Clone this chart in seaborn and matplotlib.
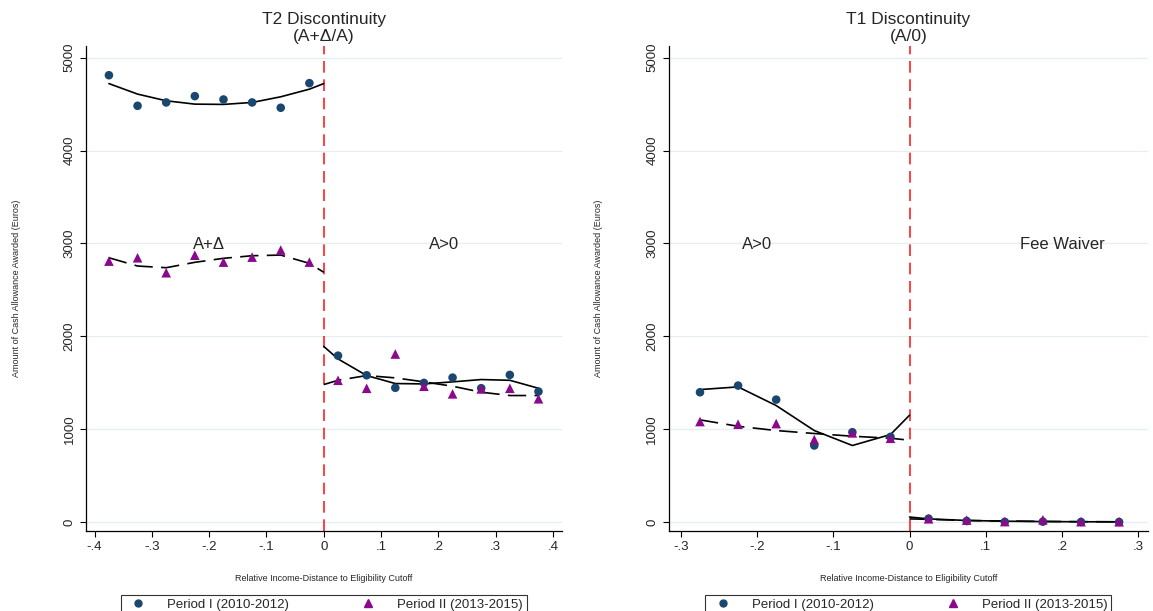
import numpy as np
import pandas as pd
import seaborn as sns
import matplotlib
matplotlib.use("Agg")
import matplotlib.pyplot as plt
from matplotlib.lines import Line2D

# bin midpoints
t2_x_below = [-.375, -.325, -.275, -.225, -.175, -.125, -.075, -.025]
t2_x_above = [.025, .075, .125, .175, .225, .275, .325, .375]
t1_x_below = [-.275, -.225, -.175, -.125, -.075, -.025]
t1_x_above = [.025, .075, .125, .175, .225, .275]

# T2 discontinuity (A+delta / A)
t2_p1_below = [4811, 4482, 4518, 4586, 4550, 4518, 4461, 4726]
t2_p1_above = [1792, 1581, 1446, 1499, 1556, 1442, 1585, 1406]
t2_p2_below = [2810, 2846, 2685, 2874, 2799, 2853, 2929, 2799]
t2_p2_above = [1527, 1441, 1810, 1463, 1381, 1434, 1441, 1328]
t2_fit1_below = [4721, 4608, 4536, 4500, 4497, 4518, 4579, 4661, 4721]
t2_fit1_above = [1892, 1757, 1578, 1492, 1488, 1510, 1535, 1527, 1441]
t2_fit2_below = [2846, 2757, 2739, 2797, 2840, 2868, 2875, 2786, 2690]
t2_fit2_above = [1481, 1527, 1578, 1553, 1510, 1463, 1399, 1363, 1363]

# T1 discontinuity (A / 0)
t1_p1_below = [1398, 1470, 1319, 825, 968, 918]
t1_p2_below = [1083, 1054, 1061, 889, 961, 903]
t1_p1_above = [38, 12, 3, 5, 2, 2]
t1_p2_above = [36, 22, 6, 25, 5, 4]
t1_fit1_below = [1427, 1456, 1255, 986, 825, 943, 1151]
t1_fit2_below = [1101, 1032, 986, 954, 925, 903, 882]
t1_fit1_above = [55, 35, 18, 10, 6, 4, 3]
t1_fit2_above = [35, 30, 18, 12, 8, 5, 4]

period_labels = ["Period I (2010-2012)", "Period II (2013-2015)"]
c_p1 = "#1a476f"
c_p2 = "#8b0a8b"

sns.set_style("white")
plt.rcParams["font.family"] = ["Liberation Sans", "DejaVu Sans"]

fig = plt.figure(figsize=(11.53, 6.11), dpi=100)
ax1 = fig.add_axes([0.0746, 0.131, 0.4128, 0.7936])
ax2 = fig.add_axes([0.5800, 0.131, 0.4157, 0.7936])


def draw_panel(ax, xb, xa, p1b, p1a, p2b, p2a, f1b, f1a, f2b, f2a):
    pts = pd.DataFrame({
        "x": list(xb) + list(xa) + list(xb) + list(xa),
        "y": list(p1b) + list(p1a) + list(p2b) + list(p2a),
        "period": [period_labels[0]] * (len(xb) + len(xa)) + [period_labels[1]] * (len(xb) + len(xa)),
    })
    # fitted lines, drawn on each side of the cutoff
    lx_b = list(xb) + [0]
    lx_a = [0] + list(xa)
    dash = (0, (11, 5))
    for lx, ly, ls in [(lx_b, f1b, "-"), (lx_a, f1a, "-"), (lx_b, f2b, dash), (lx_a, f2a, dash)]:
        sns.lineplot(x=lx, y=ly, ax=ax, color="black", linewidth=1.2, linestyle=ls, sort=False, zorder=3)
    sns.scatterplot(data=pts[pts.period == period_labels[0]], x="x", y="y", ax=ax, color=c_p1,
                    marker="o", s=38, edgecolor="none", zorder=4, legend=False)
    sns.scatterplot(data=pts[pts.period == period_labels[1]], x="x", y="y", ax=ax, color=c_p2,
                    marker="^", s=48, edgecolor="none", zorder=5, legend=False)
    ax.axvline(0, color="#ff2020", linestyle=(0, (7, 4)), linewidth=1.2, zorder=2)
    ax.set_ylim(-95, 5125)
    ax.set_yticks([0, 1000, 2000, 3000, 4000, 5000])
    ax.grid(axis="y", color="#e6eef0", linewidth=0.9)
    ax.grid(axis="x", visible=False)
    for s in ["top", "right"]:
        ax.spines[s].set_visible(False)
    for s in ["left", "bottom"]:
        ax.spines[s].set_color("black")
        ax.spines[s].set_linewidth(0.9)
    ax.tick_params(axis="both", direction="out", length=4, width=0.8, color="black",
                   labelsize=9.5, left=True, bottom=True)
    plt.setp(ax.get_yticklabels(), rotation=90, va="center")
    ax.set_xlabel("Relative Income-Distance to Eligibility Cutoff", fontsize=6.5, labelpad=15)
    ax.set_ylabel("Amount of Cash Allowance Awarded (Euros)", fontsize=6.5, labelpad=31)
    handles = [
        Line2D([], [], marker="o", color=c_p1, linestyle="none", markersize=5),
        Line2D([], [], marker="^", color=c_p2, linestyle="none", markersize=6),
    ]
    leg = ax.legend(handles, period_labels, loc="upper center", bbox_to_anchor=(0.5, -0.118),
                    ncol=2, frameon=True, fancybox=False, fontsize=9.5, columnspacing=5,
                    handletextpad=1.2, borderpad=0.3)
    leg.get_frame().set_edgecolor("black")
    leg.get_frame().set_linewidth(0.8)


draw_panel(ax1, t2_x_below, t2_x_above, t2_p1_below, t2_p1_above, t2_p2_below, t2_p2_above,
           t2_fit1_below, t2_fit1_above, t2_fit2_below, t2_fit2_above)
ax1.set_xlim(-0.415, 0.416)
ax1.set_xticks([-.4, -.3, -.2, -.1, 0, .1, .2, .3, .4])
ax1.set_xticklabels(["-.4", "-.3", "-.2", "-.1", "0", ".1", ".2", ".3", ".4"])
ax1.set_title("T2 Discontinuity\n(A+\u0394/A)", fontsize=12.5, pad=4, linespacing=1.15)
ax1.text(-0.2, 2990, "A+\u0394", fontsize=12, ha="center", va="center")
ax1.text(0.21, 2990, "A>0", fontsize=12, ha="center", va="center")

draw_panel(ax2, t1_x_below, t1_x_above, t1_p1_below, t1_p1_above, t1_p2_below, t1_p2_above,
           t1_fit1_below, t1_fit1_above, t1_fit2_below, t1_fit2_above)
ax2.set_xlim(-0.316, 0.313)
ax2.set_xticks([-.3, -.2, -.1, 0, .1, .2, .3])
ax2.set_xticklabels(["-.3", "-.2", "-.1", "0", ".1", ".2", ".3"])
ax2.set_title("T1 Discontinuity\n(A/0)", fontsize=12.5, pad=4, linespacing=1.15)
ax2.text(-0.2, 2990, "A>0", fontsize=12, ha="center", va="center")
ax2.text(0.2, 2990, "Fee Waiver", fontsize=12, ha="center", va="center")

fig.savefig("out.png", dpi=100)
